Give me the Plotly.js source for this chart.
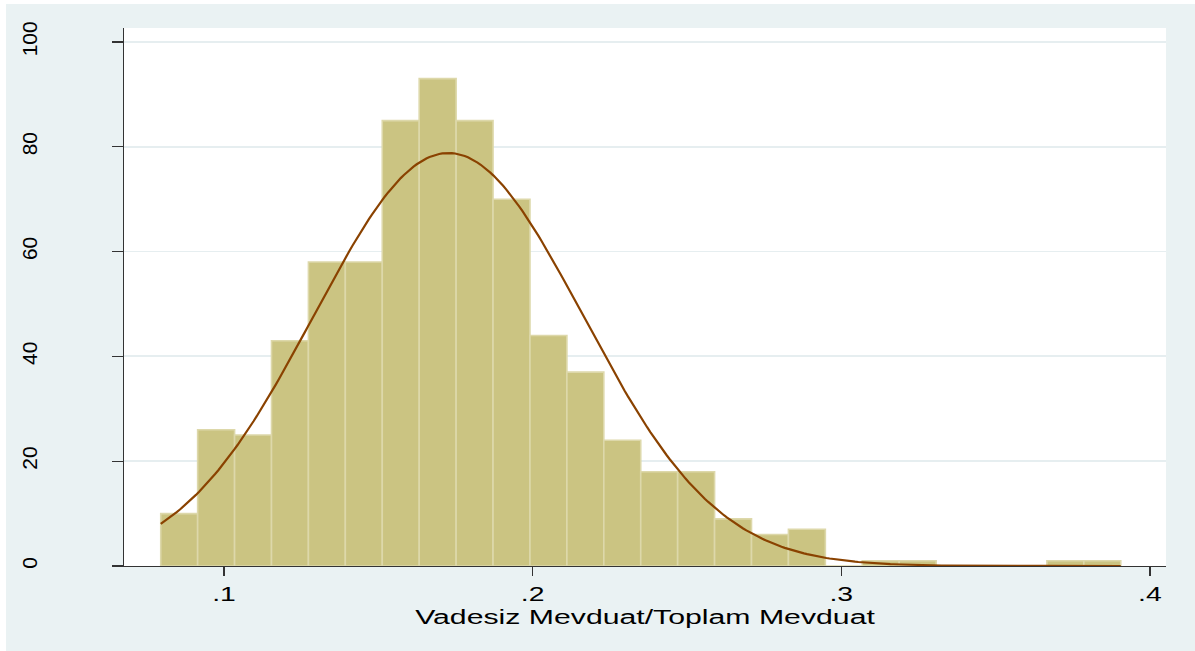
<!DOCTYPE html>
<html>
<head>
<meta charset="utf-8">
<script src="https://cdn.plot.ly/plotly-3.0.1.min.js"></script>
<style>
  html, body { margin: 0; padding: 0; background: #ffffff; }
  #chart { position: absolute; left: 6px; top: 4px; width: 1189px; height: 647px; }
</style>
</head>
<body>
<div id="chart"></div>
<script>
// Histogram of "Vadesiz Mevduat/Toplam Mevduat" (frequency), with normal density overlay
const binStart = 0.0795;      // left edge of first bin
const binWidth = 0.011963;    // bin width
const counts = [10, 26, 25, 43, 58, 58, 85, 93, 85, 70, 44, 37, 24, 18, 18, 9, 6, 7, 0, 1, 1, 0, 0, 0, 1, 1];
const normalMean = 0.1727;    // fitted normal overlay parameters
const normalSd = 0.0436;
const xTickVals = [0.1, 0.2, 0.3, 0.4];
const xTickText = ['.1', '.2', '.3', '.4'];
const yTickVals = [0, 20, 40, 60, 80, 100];
const yTickText = ['0', '20', '40', '60', '80', '100'];
const xTitle = 'Vadesiz Mevduat/Toplam Mevduat';

const binLefts = counts.map((c, i) => binStart + i * binWidth);
const nObs = counts.reduce((a, b) => a + b, 0);
const xMin = binStart, xMax = binStart + counts.length * binWidth;
const curveX = [], curveY = [];
const steps = 300;
for (let k = 0; k <= steps; k++) {
  const x = xMin + (xMax - xMin) * k / steps;
  const z = (x - normalMean) / normalSd;
  curveX.push(x);
  curveY.push(nObs * binWidth * Math.exp(-0.5 * z * z) / (normalSd * Math.sqrt(2 * Math.PI)));
}

const FONT = '"Liberation Sans", Arial, Helvetica, sans-serif';

const traces = [
  {
    type: 'bar',
    x: binLefts,
    y: counts,
    width: binWidth,
    offset: 0,
    marker: { color: '#cbc482', line: { color: '#ddd8aa', width: 1.6 } },
    hoverinfo: 'skip',
    showlegend: false
  },
  {
    type: 'scatter',
    mode: 'lines',
    x: curveX,
    y: curveY,
    line: { color: '#8a4200', width: 2.2 },
    hoverinfo: 'skip',
    showlegend: false
  }
];

const layout = {
  width: 1189,
  height: 647,
  paper_bgcolor: '#eaf2f3',
  plot_bgcolor: '#ffffff',
  margin: { l: 118, r: 29, t: 24, b: 85 },
  font: { family: FONT, size: 21, color: '#000000' },
  showlegend: false,
  xaxis: {
    range: [0.0676, 0.4052],
    tickvals: xTickVals,
    ticktext: xTickText,
    ticks: 'outside',
    ticklen: 9,
    tickwidth: 1.2,
    tickcolor: '#333333',
    showline: true,
    linecolor: '#333333',
    linewidth: 1.2,
    showgrid: false,
    zeroline: false,
    tickfont: { family: FONT, size: 21, color: '#000000' },
    title: { text: xTitle, font: { family: FONT, size: 21, color: '#000000' }, standoff: 4 },
    automargin: false,
    fixedrange: true
  },
  yaxis: {
    range: [0, 102.67],
    tickvals: yTickVals,
    ticktext: yTickText,
    tickangle: -90,
    ticks: 'outside',
    ticklen: 11,
    tickwidth: 1.2,
    tickcolor: '#333333',
    ticklabelstandoff: 66,
    showline: true,
    linecolor: '#333333',
    linewidth: 1.2,
    showgrid: true,
    gridcolor: '#e6eef0',
    gridwidth: 1.8,
    zeroline: false,
    tickfont: { family: FONT, size: 21, color: '#000000' },
    automargin: false,
    fixedrange: true
  },
  bargap: 0
};

function stretchX(el, factor) {
  const x = parseFloat(el.getAttribute('x') || '0');
  const existing = el.getAttribute('transform') || '';
  el.setAttribute('transform', existing + ' translate(' + x + ',0) scale(' + factor + ',1) translate(' + (-x) + ',0)');
}

Plotly.newPlot('chart', traces, layout, { displayModeBar: false, staticPlot: true }).then(function (gd) {
  try {
    gd.querySelectorAll('g.xtick text').forEach(function (t) { stretchX(t, 1.35); });
    gd.querySelectorAll('text.xtitle').forEach(function (t) { stretchX(t, 1.44); });
  } catch (e) {}
});
</script>
</body>
</html>
